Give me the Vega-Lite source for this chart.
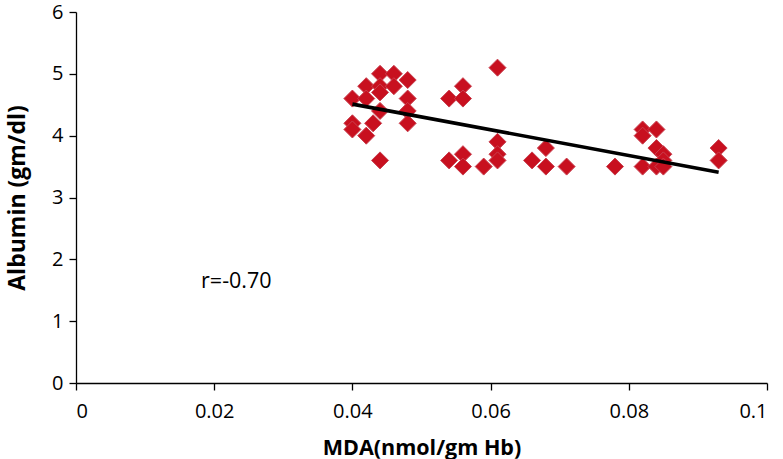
{
  "$schema": "https://vega.github.io/schema/vega-lite/v6.json",
  "width": 691,
  "height": 371,
  "autosize": {"type": "none"},
  "padding": {"left": 76, "top": 12, "right": 16, "bottom": 76},
  "background": "white",
  "config": {
    "view": {"stroke": null},
    "font": "Open Sans",
    "axis": {
      "grid": false,
      "domainColor": "#000000",
      "domainWidth": 1.3,
      "tickColor": "#000000",
      "tickWidth": 1.3,
      "tickSize": 7,
      "labelFont": "Open Sans",
      "labelFontSize": 20,
      "labelColor": "#000000",
      "titleFont": "Open Sans",
      "titleFontWeight": "bold",
      "titleColor": "#000000"
    }
  },
  "datasets": {
    "points": [
      {"mda": 0.061, "alb": 5.1},
      {"mda": 0.044, "alb": 5.0},
      {"mda": 0.046, "alb": 5.0},
      {"mda": 0.048, "alb": 4.9},
      {"mda": 0.042, "alb": 4.8},
      {"mda": 0.044, "alb": 4.8},
      {"mda": 0.046, "alb": 4.8},
      {"mda": 0.056, "alb": 4.8},
      {"mda": 0.044, "alb": 4.7},
      {"mda": 0.040, "alb": 4.6},
      {"mda": 0.042, "alb": 4.6},
      {"mda": 0.048, "alb": 4.6},
      {"mda": 0.054, "alb": 4.6},
      {"mda": 0.056, "alb": 4.6},
      {"mda": 0.044, "alb": 4.4},
      {"mda": 0.048, "alb": 4.4},
      {"mda": 0.043, "alb": 4.2},
      {"mda": 0.040, "alb": 4.2},
      {"mda": 0.048, "alb": 4.2},
      {"mda": 0.040, "alb": 4.1},
      {"mda": 0.042, "alb": 4.0},
      {"mda": 0.044, "alb": 3.6},
      {"mda": 0.061, "alb": 3.9},
      {"mda": 0.061, "alb": 3.7},
      {"mda": 0.061, "alb": 3.6},
      {"mda": 0.054, "alb": 3.6},
      {"mda": 0.056, "alb": 3.7},
      {"mda": 0.056, "alb": 3.5},
      {"mda": 0.059, "alb": 3.5},
      {"mda": 0.066, "alb": 3.6},
      {"mda": 0.068, "alb": 3.8},
      {"mda": 0.068, "alb": 3.5},
      {"mda": 0.071, "alb": 3.5},
      {"mda": 0.078, "alb": 3.5},
      {"mda": 0.082, "alb": 4.1},
      {"mda": 0.082, "alb": 4.0},
      {"mda": 0.084, "alb": 4.1},
      {"mda": 0.084, "alb": 3.8},
      {"mda": 0.085, "alb": 3.7},
      {"mda": 0.085, "alb": 3.6},
      {"mda": 0.082, "alb": 3.5},
      {"mda": 0.084, "alb": 3.5},
      {"mda": 0.085, "alb": 3.5},
      {"mda": 0.093, "alb": 3.8},
      {"mda": 0.093, "alb": 3.6}
    ],
    "trend": [
      {"mda": 0.040, "alb": 4.51},
      {"mda": 0.093, "alb": 3.41}
    ],
    "note": [
      {"mda": 0.0232, "alb": 1.64, "label": "r=-0.70"}
    ]
  },
  "layer": [
    {
      "data": {"name": "points"},
      "mark": {"type": "point", "shape": "diamond", "filled": true, "size": 290, "color": "#C8101F", "stroke": "#C8404F", "strokeWidth": 1, "opacity": 1},
      "encoding": {
        "x": {"field": "mda", "type": "quantitative", "scale": {"domain": [0, 0.1], "nice": false},
              "axis": {"values": [0, 0.02, 0.04, 0.06, 0.08, 0.1], "format": "~g", "title": "MDA(nmol/gm Hb)", "titleFontSize": 21.5, "labelPadding": 11, "titlePadding": 16}},
        "y": {"field": "alb", "type": "quantitative", "scale": {"domain": [0, 6], "nice": false},
              "axis": {"values": [0, 1, 2, 3, 4, 5, 6], "format": "~g", "title": "Albumin (gm/dl)", "titleFontSize": 23, "labelPadding": 6, "titlePadding": 22}}
      }
    },
    {
      "data": {"name": "trend"},
      "mark": {"type": "line", "color": "#000000", "strokeWidth": 3.6},
      "encoding": {
        "x": {"field": "mda", "type": "quantitative"},
        "y": {"field": "alb", "type": "quantitative"}
      }
    },
    {
      "data": {"name": "note"},
      "mark": {"type": "text", "fontSize": 21.5, "font": "Open Sans", "color": "#000000", "align": "center", "baseline": "middle"},
      "encoding": {
        "x": {"field": "mda", "type": "quantitative"},
        "y": {"field": "alb", "type": "quantitative"},
        "text": {"field": "label"}
      }
    }
  ]
}
